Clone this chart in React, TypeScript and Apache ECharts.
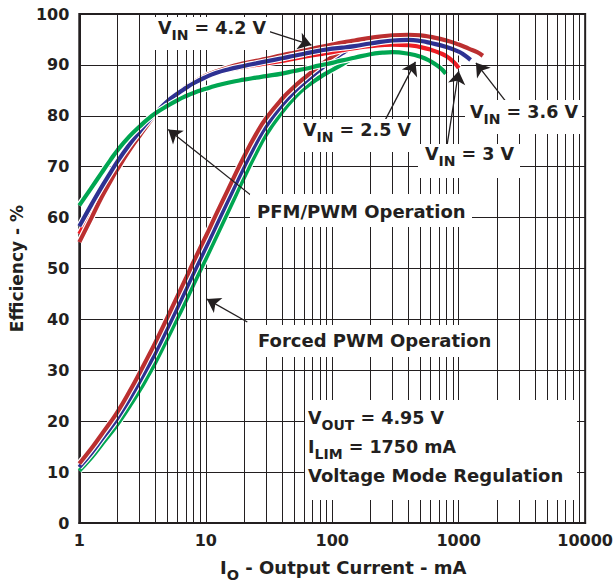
import React, { useEffect, useRef } from "react";
import * as echarts from "echarts";

type Pt = [number, number];

// PFM/PWM operation curves: [I_O (mA), efficiency (%)]
const pfmVin25: Pt[] = [[1, 62.4], [1.25, 65.9], [1.5, 68.8], [1.75, 71.2], [2, 73.2], [2.5, 76.0], [3, 77.9], [3.5, 79.4], [4, 80.5], [5, 82.0], [6, 83.1], [7, 83.9], [8, 84.5], [10, 85.3], [12, 85.9], [15, 86.5], [20, 87.1], [25, 87.5], [30, 87.8], [40, 88.3], [50, 88.8], [60, 89.2], [80, 89.9], [100, 90.4], [120, 90.9], [150, 91.4], [200, 92.1], [250, 92.4], [300, 92.5], [400, 92.2], [500, 91.6], [600, 90.7], [700, 89.6], [790, 88.3]];
const pfmVin3: Pt[] = [[1, 56.8], [1.25, 61.3], [1.5, 65.0], [1.75, 67.8], [2, 70.2], [2.5, 73.8], [3, 76.5], [3.5, 78.6], [4, 80.4], [5, 82.9], [6, 84.4], [7, 85.5], [8, 86.4], [10, 87.6], [12, 88.3], [15, 89.0], [20, 89.6], [25, 90.0], [30, 90.3], [40, 90.8], [50, 91.2], [60, 91.6], [80, 92.1], [100, 92.5], [120, 92.9], [150, 93.3], [200, 93.7], [300, 94.0], [400, 93.9], [500, 93.5], [600, 93.0], [700, 92.4], [800, 91.7], [900, 90.7], [1000, 89.4]];
const pfmVin36: Pt[] = [[1, 58.3], [1.25, 62.6], [1.5, 66.0], [1.75, 68.7], [2, 71.0], [2.5, 74.4], [3, 76.9], [3.5, 78.9], [4, 80.5], [5, 82.9], [6, 84.4], [7, 85.5], [8, 86.4], [10, 87.6], [12, 88.4], [15, 89.1], [20, 89.8], [25, 90.3], [30, 90.7], [40, 91.3], [50, 91.8], [60, 92.2], [80, 92.8], [100, 93.2], [120, 93.4], [150, 93.7], [200, 94.2], [300, 94.8], [400, 94.9], [500, 94.7], [600, 94.3], [800, 93.5], [1000, 92.6], [1100, 92.0], [1240, 91.0]];
const pfmVin42: Pt[] = [[1, 55.2], [1.25, 60.0], [1.5, 64.0], [1.75, 67.0], [2, 69.5], [2.5, 73.3], [3, 76.1], [3.5, 78.4], [4, 80.3], [5, 82.9], [6, 84.5], [7, 85.7], [8, 86.6], [10, 87.9], [12, 88.7], [15, 89.5], [20, 90.3], [25, 90.8], [30, 91.2], [40, 91.9], [50, 92.4], [60, 92.8], [80, 93.5], [100, 94.0], [120, 94.4], [150, 94.8], [200, 95.3], [300, 95.8], [400, 95.9], [500, 95.8], [600, 95.5], [800, 94.8], [1000, 94.0], [1200, 93.2], [1400, 92.5], [1550, 91.8]];

// Forced PWM operation, light-load part (joins the PFM/PWM curve at heavier load)
const forcedVin25: Pt[] = [[1, 10.3], [1.25, 12.9], [1.5, 15.4], [1.75, 17.5], [2, 19.4], [2.5, 23.0], [3, 26.1], [3.5, 29.0], [4, 31.6], [5, 36.4], [6, 40.4], [7, 43.8], [8, 46.9], [10, 51.9], [12, 56.1], [15, 61.2], [20, 67.8], [25, 72.7], [30, 76.3], [40, 80.7], [50, 83.5], [60, 85.4], [80, 87.6], [100, 89.0], [120, 90.1], [150, 91.4]];
const forcedVin3: Pt[] = [[1, 11.3], [1.25, 14.2], [1.5, 16.9], [1.75, 19.1], [2, 21.2], [2.5, 25.1], [3, 28.6], [3.5, 31.7], [4, 34.5], [5, 39.4], [6, 43.6], [7, 47.1], [8, 50.2], [10, 55.2], [12, 59.4], [15, 64.4], [20, 70.9], [25, 75.5], [30, 78.7], [40, 82.7], [50, 85.2], [60, 86.9], [80, 89.4], [100, 91.0], [120, 92.2], [150, 93.3]];
const forcedVin36: Pt[] = [[1, 11.0], [1.25, 13.8], [1.5, 16.4], [1.75, 18.6], [2, 20.6], [2.5, 24.4], [3, 27.8], [3.5, 30.8], [4, 33.5], [5, 38.4], [6, 42.5], [7, 46.0], [8, 49.1], [10, 54.1], [12, 58.3], [15, 63.4], [20, 69.9], [25, 74.6], [30, 78.0], [40, 82.1], [50, 84.7], [60, 86.5], [80, 89.1], [100, 90.9], [120, 92.3], [150, 93.6]];
const forcedVin42: Pt[] = [[1, 11.7], [1.25, 14.7], [1.5, 17.4], [1.75, 19.7], [2, 21.8], [2.5, 25.9], [3, 29.5], [3.5, 32.7], [4, 35.5], [5, 40.5], [6, 44.7], [7, 48.2], [8, 51.3], [10, 56.3], [12, 60.5], [15, 65.5], [20, 71.9], [25, 76.4], [30, 79.5], [40, 83.3], [50, 85.7], [60, 87.4], [80, 89.9], [100, 91.6], [120, 92.9], [150, 94.7]];

const minorGridX = [2, 3, 4, 5, 6, 7, 8, 9, 20, 30, 40, 50, 60, 70, 80, 90, 200, 300, 400, 500, 600, 700, 800, 900, 2000, 3000, 4000, 5000, 6000, 7000, 8000, 9000];

// annotation arrows: [startI, startE, tipI, tipE]
const arrows: [number, number, number, number][] = [
  [28.9, 96.9, 68.5, 93.9],
  [25, 63.6, 5.05, 77.3],
  [21.3, 39.5, 10.2, 44],
  [264, 79.3, 455, 90.6],
  [804, 73.8, 1000, 88.8],
  [2466, 82.2, 1368, 90.4],
];

const FONT = "DejaVu Sans";
const INK = "#231f20";

const colors = {
  v25: "#00a651",
  v3: "#ed1c24",
  v36: "#2e3192",
  v42: "#bb2f30",
};

function joinForced(forced: Pt[], pfm: Pt[]): Pt[] {
  const lastX = forced[forced.length - 1][0];
  return forced.concat(pfm.filter((p) => p[0] > lastX));
}

function curve(data: Pt[], color: string): any[] {
  const base = {
    type: "line",
    data,
    smooth: 0.5,
    symbol: "none",
    silent: true,
    z: 3,
  };
  return [
    { ...base, lineStyle: { color: "#ffffff", width: 6.5 } },
    { ...base, lineStyle: { color, width: 4.2 } },
  ];
}

const rich = {
  a: { fontFamily: FONT, fontWeight: "bold", fontSize: 17.5, lineHeight: 24, fill: INK },
  b: { fontFamily: FONT, fontWeight: "bold", fontSize: 14, lineHeight: 24, fill: INK, padding: [14, 0, 0, 0] },
  c: { fontFamily: FONT, fontWeight: "bold", fontSize: 18, lineHeight: 24, fill: INK },
};

const labels = [
  { x: 158, y: 16, text: "{a|V}{b|IN}{a| = 4.2 V}", box: [150, 17, 120, 33] },
  { x: 257, y: 199, text: "{c|PFM/PWM Operation}", box: [250, 194, 222, 33] },
  { x: 258, y: 328, text: "{c|Forced PWM Operation}", box: [250, 325, 247, 32] },
  { x: 303, y: 118, text: "{a|V}{b|IN}{a| = 2.5 V}", box: [298, 119, 120, 33] },
  { x: 425, y: 142, text: "{a|V}{b|IN}{a| = 3 V}", box: [418, 144, 102, 34] },
  { x: 470, y: 100, text: "{a|V}{b|IN}{a| = 3.6 V}", box: [465, 100, 117, 34] },
];

export default function App() {
  const ref = useRef<HTMLDivElement>(null);
  useEffect(() => {
    if (!ref.current) return;
    const chart = echarts.init(ref.current, null, { renderer: "svg" });

    const series: any[] = [];
    // minor vertical gridlines inside each decade
    series.push({
      type: "line",
      data: [],
      silent: true,
      z: 1,
      markLine: {
        silent: true,
        symbol: ["none", "none"],
        label: { show: false },
        lineStyle: { color: INK, width: 1, type: "solid" },
        emphasis: { disabled: true },
        data: minorGridX.map((v) => ({ xAxis: v })),
      },
    });
    // forced PWM curves first, then PFM/PWM curves on top
    const forcedSets: [Pt[], Pt[], string][] = [
      [forcedVin25, pfmVin25, colors.v25],
      [forcedVin3, pfmVin3, colors.v3],
      [forcedVin36, pfmVin36, colors.v36],
      [forcedVin42, pfmVin42, colors.v42],
    ];
    for (const [forced, pfm, c] of forcedSets) {
      series.push(...curve(joinForced(forced, pfm), c));
    }
    const pfmSets: [Pt[], string][] = [
      [pfmVin3, colors.v3],
      [pfmVin42, colors.v42],
      [pfmVin36, colors.v36],
      [pfmVin25, colors.v25],
    ];
    for (const [pfm, c] of pfmSets) {
      series.push(...curve(pfm, c));
    }
    // arrows
    series.push({
      type: "line",
      data: [],
      silent: true,
      z: 12,
      markLine: {
        silent: true,
        symbol: ["none", "arrow"],
        symbolSize: 13,
        label: { show: false },
        lineStyle: { color: INK, width: 1.3, type: "solid" },
        emphasis: { disabled: true },
        data: arrows.map((a) => [{ coord: [a[0], a[1]] }, { coord: [a[2], a[3]] }]),
      },
    });

    const graphic: any[] = [];
    for (const l of labels) {
      graphic.push({
        type: "rect",
        silent: true,
        z: 10,
        shape: { x: l.box[0], y: l.box[1], width: l.box[2], height: l.box[3] },
        style: { fill: "#ffffff" },
      });
    }
    graphic.push({
      type: "rect",
      silent: true,
      z: 10,
      shape: { x: 305, y: 400, width: 272, height: 100 },
      style: { fill: "#ffffff" },
    });
    for (const l of labels) {
      graphic.push({
        type: "text",
        silent: true,
        z: 11,
        x: l.x,
        y: l.y,
        style: { text: l.text, rich, fill: INK, verticalAlign: "top", align: "left" },
      });
    }
    graphic.push({
      type: "text",
      silent: true,
      z: 11,
      x: 308,
      y: 403,
      style: {
        text: "{a|V}{b|OUT}{a| = 4.95 V}\n{a|I}{b|LIM}{a| = 1750 mA}\n{c|Voltage Mode Regulation}",
        rich: {
          a: { ...rich.a, lineHeight: 29 },
          b: { ...rich.b, lineHeight: 29 },
          c: { ...rich.c, lineHeight: 29 },
        },
        fill: INK,
        verticalAlign: "top",
        align: "left",
      },
    });

    chart.setOption({
      animation: false,
      backgroundColor: "#ffffff",
      grid: {
        left: 78,
        top: 14,
        right: 26,
        bottom: 62,
        show: true,
        borderColor: INK,
        borderWidth: 2,
        backgroundColor: "transparent",
      },
      xAxis: {
        type: "log",
        logBase: 10,
        min: 1,
        max: 10000,
        name: "{a|I}{b|O}{a| - Output Current - mA}",
        nameLocation: "middle",
        nameGap: 30,
        nameTextStyle: {
          padding: [0, 0, 0, 22],
          rich: {
            a: { fontFamily: FONT, fontWeight: "bold", fontSize: 18, lineHeight: 24, color: INK },
            b: { fontFamily: FONT, fontWeight: "bold", fontSize: 14.5, lineHeight: 24, color: INK, padding: [14, 0, 0, 0] },
          },
        },
        axisLine: { show: true, lineStyle: { color: INK, width: 2 } },
        axisTick: { show: false },
        axisLabel: {
          fontFamily: FONT,
          fontWeight: "bold",
          fontSize: 16,
          color: INK,
          margin: 9,
          formatter: (v: number) => String(Math.round(v)),
        },
        splitLine: { show: true, lineStyle: { color: INK, width: 1 } },
      },
      yAxis: {
        type: "value",
        min: 0,
        max: 100,
        interval: 10,
        name: "Efficiency - %",
        nameLocation: "middle",
        nameGap: 48,
        nameTextStyle: { fontFamily: FONT, fontWeight: "bold", fontSize: 17, color: INK },
        axisLine: { show: true, lineStyle: { color: INK, width: 2 } },
        axisTick: { show: false },
        axisLabel: { fontFamily: FONT, fontWeight: "bold", fontSize: 16, color: INK, margin: 10 },
        splitLine: { show: true, lineStyle: { color: INK, width: 1 } },
      },
      series,
      graphic,
    });
    return () => chart.dispose();
  }, []);
  return <div ref={ref} style={{ position: "fixed", left: 0, top: 0, width: 616, height: 587 }} />;
}
